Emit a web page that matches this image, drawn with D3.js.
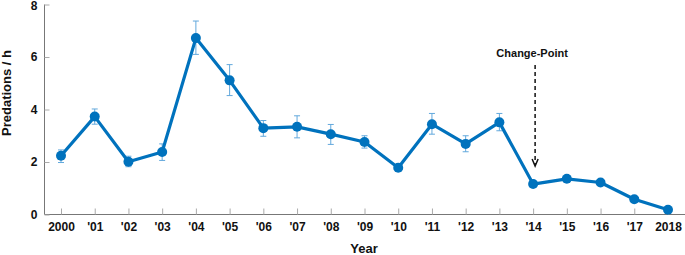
<!DOCTYPE html>
<html><head><meta charset="utf-8">
<script src="https://cdn.jsdelivr.net/npm/d3@7"></script>
<style>body{margin:0;background:#fff}svg{display:block}text{font-family:"Liberation Sans",Arial,sans-serif;font-weight:bold;fill:#111}</style>
</head><body><svg id="c" width="685" height="255"></svg>
<script>
const years = ["2000","'01","'02","'03","'04","'05","'06","'07","'08","'09","'10","'11","'12","'13","'14","'15","'16","'17","2018"];
const values = [2.24,3.73,2.01,2.38,6.72,5.11,3.29,3.34,3.06,2.76,1.78,3.44,2.69,3.51,1.16,1.36,1.22,0.58,0.18];
const upper = [2.46,4.02,2.22,2.69,7.37,5.71,3.58,3.76,3.43,3.00,1.86,3.85,3.00,3.85,1.22,1.46,1.30,0.63,0.22];
const lower = [1.98,3.44,1.82,2.06,6.10,4.53,2.98,2.92,2.67,2.53,1.70,3.06,2.39,3.19,1.10,1.26,1.14,0.53,0.14];
const yTicks = [0,2,4,6,8];
const changePointYear = "'14";

const svg = d3.select("#c");
const x = d3.scalePoint().domain(years).range([61,668]);
const y = d3.scaleLinear().domain([0,8]).range([214.5,4.5]);
const blue = "#0072BD";

// axes
const xAxis = svg.append("g").attr("transform","translate(0,214.5)")
  .call(d3.axisBottom(x).tickSize(-6).tickPadding(11).tickSizeOuter(0));
xAxis.select(".domain").attr("d","M44.5,0H685").attr("stroke","#777");
xAxis.selectAll(".tick line").attr("stroke","#aaa");
xAxis.selectAll("text").style("font-size","12px").attr("dy","0.71em").attr("y",8);

const yAxis = svg.append("g").attr("transform","translate(44.5,0)")
  .call(d3.axisLeft(y).tickValues(yTicks).tickSize(-5).tickPadding(7).tickSizeOuter(0));
yAxis.select(".domain").attr("d","M0,4.5V214.5").attr("stroke","#777");
yAxis.selectAll(".tick line").attr("stroke","#aaa");
yAxis.selectAll("text").style("font-size","12px")
  .attr("dy",d=>d===8?"0.42em":"0.32em");

// error bars
const eb = svg.append("g").attr("stroke","#62a8dc").attr("stroke-width",1);
years.forEach((yr,i)=>{
  const cx = x(yr);
  eb.append("line").attr("x1",cx).attr("x2",cx).attr("y1",y(upper[i])).attr("y2",y(lower[i]));
  eb.append("line").attr("x1",cx-3).attr("x2",cx+3).attr("y1",y(upper[i])).attr("y2",y(upper[i]));
  eb.append("line").attr("x1",cx-3).attr("x2",cx+3).attr("y1",y(lower[i])).attr("y2",y(lower[i]));
});

// line
const line = d3.line().x((d,i)=>x(years[i])).y(d=>y(d));
svg.append("path").datum(values).attr("d",line).attr("fill","none")
  .attr("stroke",blue).attr("stroke-width",3.2).attr("stroke-linejoin","round");
svg.append("g").selectAll("circle").data(values).join("circle")
  .attr("cx",(d,i)=>x(years[i])).attr("cy",d=>y(d)).attr("r",5).attr("fill",blue);

// change point
const cpx = x(changePointYear)+2;
svg.append("text").attr("x",cpx-3).attr("y",57).attr("text-anchor","middle").style("font-size","11px").text("Change-Point");
svg.append("line").attr("x1",cpx).attr("x2",cpx).attr("y1",65).attr("y2",165)
  .attr("stroke","#111").attr("stroke-width",1.5).attr("stroke-dasharray","4,3");
svg.append("path").attr("d",`M${cpx-3},159L${cpx},166L${cpx+3},159`).attr("fill","none").attr("stroke","#111").attr("stroke-width",1.5);

// axis titles
svg.append("text").attr("x",364).attr("y",253).attr("text-anchor","middle").style("font-size","13px").text("Year");
svg.append("text").attr("transform","translate(11,93) rotate(-90)").attr("text-anchor","middle").style("font-size","13px").text("Predations / h");
</script></body></html>
